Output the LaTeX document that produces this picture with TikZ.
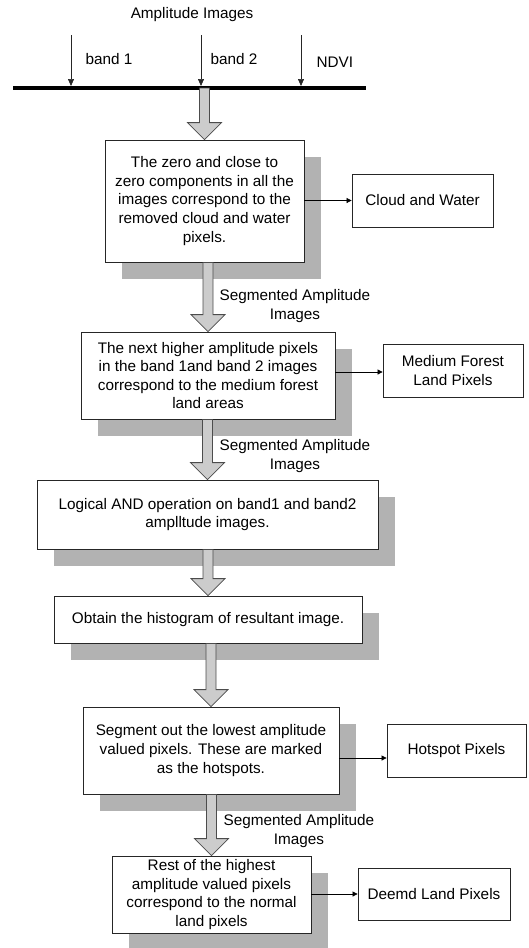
\documentclass[tikz,border=0pt]{standalone}
\usepackage{fontspec}
\setmainfont{Liberation Sans}
\usepackage{tikz}
\usetikzlibrary{arrows.meta,calc,shadows}
\tikzset{
  txt/.style      = {font=\fontsize{15.3}{18.6}\selectfont, align=center},
  procbox/.style  = {txt, draw=black!85, fill=white, line width=0.8pt,
                     inner sep=0pt,
                     drop shadow={shadow xshift=17pt, shadow yshift=-17pt,
                                  fill=gray!60, opacity=1}},
  outbox/.style   = {txt, draw=black!85, fill=white, line width=0.8pt,
                     inner sep=0pt, minimum height=53pt},
  busline/.style  = {black, line width=3.6pt},
  inarr/.style    = {-{Triangle[length=7pt,width=6pt]}, black!85, line width=0.7pt},
  sidearr/.style  = {-{Triangle[length=5pt,width=5pt]}, black, line width=0.7pt},
  flowarr/.style  = {draw=black!70, fill=gray!40, line width=0.8pt}
}
% wide grey arrow, straight down, at the x of its target
\newcommand{\bigarrow}[2]{%
  \draw[flowarr] let \p1=(#1), \p2=(#2) in
    (\x2-5pt,\y1) -- (\x2+5pt,\y1) -- (\x2+5pt,\y2+17pt) -- (\x2+17pt,\y2+17pt)
    -- (\x2,\y2) -- (\x2-17pt,\y2+17pt) -- (\x2-5pt,\y2+17pt) -- cycle;}

\begin{document}
\begin{tikzpicture}[x=1pt,y=-1pt]
  \useasboundingbox (0,0) rectangle (528,948);

  % inputs
  \node[txt] (title) at (192,15) {Amplitude Images};
  \coordinate (barL) at (13,88);
  \coordinate (barR) at (366,88);
  \draw[busline] (barL) -- (barR);
  \foreach \x/\n in {71/b1, 201/b2, 301/nd} {
    \coordinate (\n top) at (\x,35);
    \coordinate (\n bot) at (\x,86);
    \draw[inarr] (\n top) -- (\n bot);
  }
  \node[txt, anchor=west] (lb1) at (82,59) {band 1};
  \node[txt, anchor=west] (lb2) at (207,59) {band 2};
  \node[txt, anchor=west] (lnd) at (313,62) {NDVI};
  \coordinate (barmid) at (202,88);

  % main steps
  \node[procbox, minimum width=199pt, minimum height=122pt] (s1) at (204.5,201)
    {The zero and close to\\zero components in all the\\images correspond to the\\removed cloud and water\\pixels.};
  \node[procbox, minimum width=254pt, minimum height=87pt] (s2) at (208,375.5)
    {The next higher amplitude pixels\\in the band 1and band 2 images\\correspond to the medium forest\\land areas};
  \node[procbox, minimum width=341pt, minimum height=69pt] (s3) at (207.5,514.5)
    {Logical AND operation on band1 and band2\\amplltude images.};
  \node[procbox, minimum width=308pt, minimum height=47pt] (s4) at (208,619.5)
    {Obtain the histogram of resultant image.};
  \node[procbox, minimum width=256pt, minimum height=87pt] (s5) at (211,750.5)
    {Segment out the lowest amplitude\\valued pixels. These are marked\\as the hotspots.};
  \node[procbox, minimum width=199pt, minimum height=77pt] (s6) at (211.5,894.5)
    {Rest of the highest\\amplitude valued pixels\\correspond to the normal\\land pixels};

  % outputs
  \node[outbox, minimum width=141pt] (cloud) at (422.5,200.5) {Cloud and Water};
  \node[outbox, minimum width=140pt] (forest) at (453,370.5) {Medium Forest\\Land Pixels};
  \node[outbox, minimum width=139pt] (hot) at (456.5,750.5) {Hotspot Pixels};
  \node[outbox, minimum width=152pt, minimum height=52pt] (land) at (434,894) {Deemd Land Pixels};

  \coordinate (forestin) at ([yshift=-1.5pt]forest.west);
  \coordinate (hotin) at ([yshift=-7.5pt]hot.west);
  \draw[sidearr] (s1.east |- cloud.west) -- (cloud.west);
  \draw[sidearr] (s2.east |- forestin) -- (forestin);
  \draw[sidearr] (s5.east |- hotin) -- (hotin);
  \draw[sidearr] (s6.east |- land.west) -- (land.west);

  % flow
  \bigarrow{barmid}{s1.north}
  \bigarrow{s1.south}{s2.north}
  \bigarrow{s2.south}{s3.north}
  \bigarrow{s3.south}{s4.north}
  \bigarrow{s4.south}{s5.north}
  \bigarrow{s5.south}{s6.north}

  \node[txt] (seg1) at (295,306) {Segmented Amplitude\\Images};
  \node[txt] (seg2) at (295,456) {Segmented Amplitude\\Images};
  \node[txt] (seg3) at (299,831) {Segmented Amplitude\\Images};
\end{tikzpicture}
\end{document}
